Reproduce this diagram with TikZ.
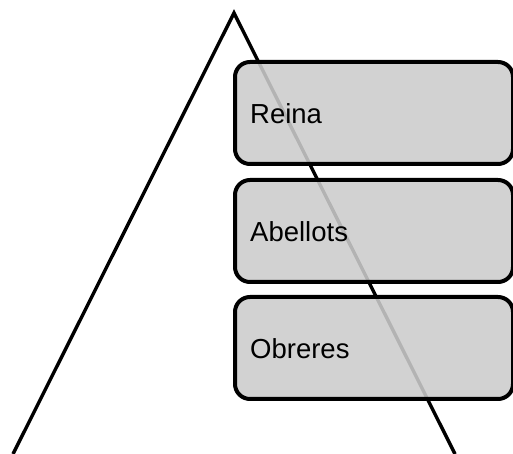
\documentclass[tikz,border=0pt]{standalone}
\usepackage{fontspec}
\setmainfont{Liberation Sans}
\begin{document}
\begin{tikzpicture}[x=1pt,y=1pt,
  tier/.style={draw=black, line width=4pt, rounded corners=15pt, fill=black!20, fill opacity=0.88, text opacity=1, minimum width=278pt, minimum height=102pt, inner sep=0pt},
  tierlabel/.style={anchor=west, font=\fontsize{27.5}{30}\selectfont, text=black, inner sep=0pt},
  side/.style={draw=black, line width=3.4pt, line join=miter}]
\useasboundingbox (0,0) rectangle (513,454);
\clip (0,0) rectangle (513,454);
\coordinate (apex) at (234,441);
\coordinate (bl) at (13,0);
\coordinate (br) at (455,0);
\draw[side] (bl) -- (apex) -- (br);
\node[tier, anchor=north west] (reina) at (233,394) {};
\node[tier, anchor=north west] (abellots) at (233,276) {};
\node[tier, anchor=north west] (obreres) at (233,159) {};
\node[tierlabel] (treina) at ([xshift=17pt,yshift=-1pt]reina.west) {Reina};
\node[tierlabel] (tabellots) at ([xshift=17pt,yshift=-1pt]abellots.west) {Abellots};
\node[tierlabel] (tobreres) at ([xshift=17pt,yshift=-1pt]obreres.west) {Obreres};
\end{tikzpicture}
\end{document}
